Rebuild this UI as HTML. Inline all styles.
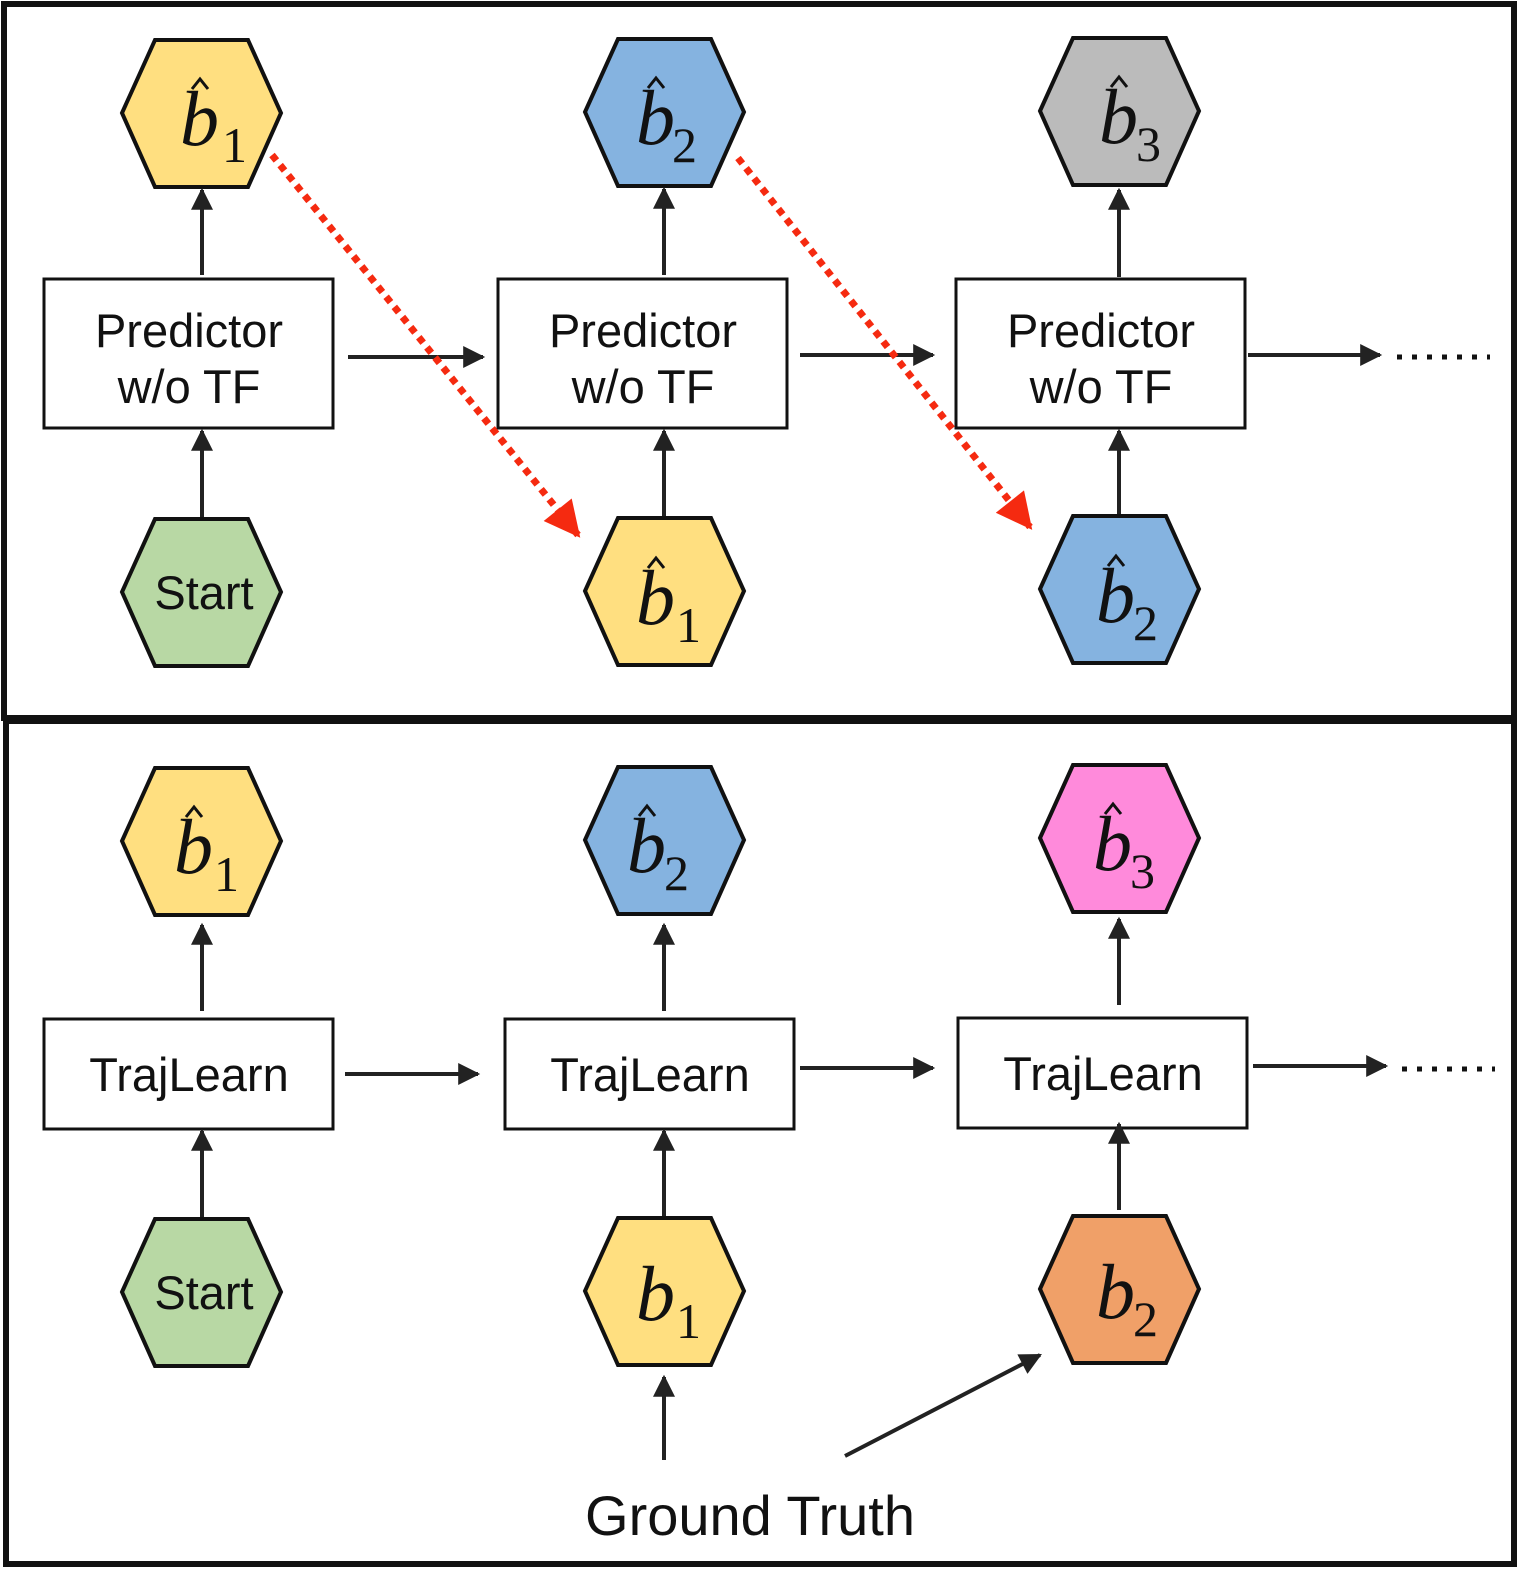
<!DOCTYPE html>
<html><head><style>body{margin:0;background:#fff}svg{display:block}</style></head>
<body>
<svg width="1528" height="1578" viewBox="0 0 1528 1578" xmlns="http://www.w3.org/2000/svg">
<defs>
<marker id="ah" viewBox="0 0 10 10" markerWidth="26" markerHeight="22" refX="9" refY="5" orient="auto" markerUnits="userSpaceOnUse"><path d="M0,0 L10,5 L0,10Z" fill="#222"/></marker>
<marker id="r" viewBox="0 0 10 10" markerWidth="44" markerHeight="36" refX="9" refY="5" orient="auto" markerUnits="userSpaceOnUse"><path d="M0,0 L10,5 L0,10Z" fill="#f52a10"/></marker>
</defs>
<rect x="4" y="4" width="1510" height="714" fill="none" stroke="#111" stroke-width="6"/>
<rect x="6" y="721" width="1508" height="843" fill="none" stroke="#111" stroke-width="6"/>

<g stroke="#111" stroke-width="4">
<polygon points="122,113 155,40 248,40 281,113 248,187 155,187" fill="#FFDF80"/>
<polygon points="585,112 618,39 711,39 744,112 711,186 618,186" fill="#85B3E0"/>
<polygon points="1040,111 1073,38 1166,38 1199,111 1166,185 1073,185" fill="#BBBBBB"/>
<polygon points="122,592 155,519 248,519 281,592 248,666 155,666" fill="#B8D8A4"/>
<polygon points="585,591 618,518 711,518 744,591 711,665 618,665" fill="#FFDF80"/>
<polygon points="1040,589 1073,516 1166,516 1199,589 1166,663 1073,663" fill="#85B3E0"/>
<polygon points="122,841 155,768 248,768 281,841 248,915 155,915" fill="#FFDF80"/>
<polygon points="585,840 618,767 711,767 744,840 711,914 618,914" fill="#85B3E0"/>
<polygon points="1040,838 1073,765 1166,765 1199,838 1166,912 1073,912" fill="#FF8ADB"/>
<polygon points="122,1292 155,1219 248,1219 281,1292 248,1366 155,1366" fill="#B8D8A4"/>
<polygon points="585,1291 618,1218 711,1218 744,1291 711,1365 618,1365" fill="#FFDF80"/>
<polygon points="1040,1289 1073,1216 1166,1216 1199,1289 1166,1363 1073,1363" fill="#F0A068"/>
</g>
<g stroke="#111" stroke-width="3" fill="#fff">
<rect x="44" y="279" width="289" height="149"/>
<rect x="498" y="279" width="289" height="149"/>
<rect x="956" y="279" width="289" height="149"/>
<rect x="44" y="1019" width="289" height="110"/>
<rect x="505" y="1019" width="289" height="110"/>
<rect x="958" y="1018" width="289" height="110"/>
</g>
<g stroke="#222" stroke-width="4" marker-end="url(#ah)">
<line x1="202" y1="275" x2="202" y2="190"/>
<line x1="664" y1="275" x2="664" y2="189"/>
<line x1="1119" y1="277" x2="1119" y2="190"/>
<line x1="202" y1="517" x2="202" y2="431"/>
<line x1="664" y1="516" x2="664" y2="431"/>
<line x1="1119" y1="514" x2="1119" y2="431"/>
<line x1="348" y1="357" x2="483" y2="357"/>
<line x1="800" y1="355" x2="933" y2="355"/>
<line x1="1248" y1="355" x2="1380" y2="355"/>
<line x1="202" y1="1011" x2="202" y2="925"/>
<line x1="664" y1="1011" x2="664" y2="925"/>
<line x1="1119" y1="1005" x2="1119" y2="919"/>
<line x1="202" y1="1217" x2="202" y2="1131"/>
<line x1="664" y1="1216" x2="664" y2="1131"/>
<line x1="1119" y1="1210" x2="1119" y2="1124"/>
<line x1="345" y1="1074" x2="478" y2="1074"/>
<line x1="800" y1="1068" x2="933" y2="1068"/>
<line x1="1253" y1="1066" x2="1386" y2="1066"/>
<line x1="664" y1="1460" x2="664" y2="1377"/>
<line x1="845" y1="1456" x2="1040" y2="1355"/>
</g>
<g stroke="#111" stroke-width="5" stroke-dasharray="5 10">
<line x1="1397" y1="357" x2="1490" y2="357"/>
<line x1="1402" y1="1069" x2="1495" y2="1069"/>
</g>
<g stroke="#f52a10" stroke-width="7" stroke-dasharray="7 6" marker-end="url(#r)">
<line x1="272" y1="155" x2="578" y2="535"/>
<line x1="738" y1="158" x2="1030" y2="527"/>
</g>
<g font-family="Liberation Sans, sans-serif" font-size="47" fill="#111" text-anchor="middle">
<text x="189" y="347">Predictor</text><text x="189" y="403">w/o TF</text>
<text x="643" y="347">Predictor</text><text x="643" y="403">w/o TF</text>
<text x="1101" y="347">Predictor</text><text x="1101" y="403">w/o TF</text>
<text x="189" y="1091">TrajLearn</text>
<text x="650" y="1091">TrajLearn</text>
<text x="1103" y="1090">TrajLearn</text>
<text x="204" y="609">Start</text>
<text x="204" y="1309">Start</text>
<text x="750" y="1535" font-size="56">Ground Truth</text>
</g>
<g font-family="Liberation Serif, serif" fill="#111">
<g transform="translate(180,145)"><text font-size="78" font-style="italic">b</text><text x="42" y="17" font-size="50">1</text><path d="M12,-56 L20,-66 L28,-56" fill="none" stroke="#111" stroke-width="3"/></g>
<g transform="translate(636,144)"><text font-size="78" font-style="italic">b</text><text x="36" y="18" font-size="50">2</text><path d="M12,-56 L20,-66 L28,-56" fill="none" stroke="#111" stroke-width="3"/></g>
<g transform="translate(1099,143)"><text font-size="78" font-style="italic">b</text><text x="37" y="18" font-size="50">3</text><path d="M12,-56 L20,-66 L28,-56" fill="none" stroke="#111" stroke-width="3"/></g>
<g transform="translate(636,624)"><text font-size="78" font-style="italic">b</text><text x="40" y="18" font-size="50">1</text><path d="M12,-56 L20,-66 L28,-56" fill="none" stroke="#111" stroke-width="3"/></g>
<g transform="translate(1096,622)"><text font-size="78" font-style="italic">b</text><text x="37" y="18" font-size="50">2</text><path d="M12,-56 L20,-66 L28,-56" fill="none" stroke="#111" stroke-width="3"/></g>
<g transform="translate(174,873)"><text font-size="78" font-style="italic">b</text><text x="40" y="18" font-size="50">1</text><path d="M12,-56 L20,-66 L28,-56" fill="none" stroke="#111" stroke-width="3"/></g>
<g transform="translate(627,872)"><text font-size="78" font-style="italic">b</text><text x="37" y="18" font-size="50">2</text><path d="M12,-56 L20,-66 L28,-56" fill="none" stroke="#111" stroke-width="3"/></g>
<g transform="translate(1093,870)"><text font-size="78" font-style="italic">b</text><text x="37" y="18" font-size="50">3</text><path d="M12,-56 L20,-66 L28,-56" fill="none" stroke="#111" stroke-width="3"/></g>
<g transform="translate(636,1320)"><text font-size="78" font-style="italic">b</text><text x="40" y="18" font-size="50">1</text></g>
<g transform="translate(1096,1318)"><text font-size="78" font-style="italic">b</text><text x="37" y="18" font-size="50">2</text></g>
</g>
</svg>
</body></html>
